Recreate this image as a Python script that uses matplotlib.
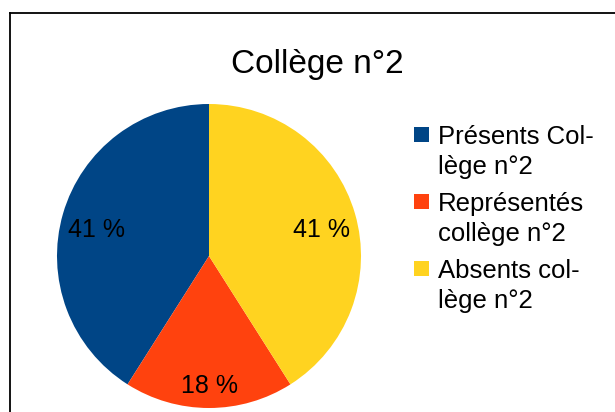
import matplotlib
matplotlib.use("Agg")
import matplotlib.pyplot as plt
from matplotlib.patches import Rectangle
from matplotlib.lines import Line2D
import numpy as np

plt.rcParams['font.family'] = ['Liberation Sans', 'DejaVu Sans']

title = "Collège n°2"
labels = ["Présents Col-\nlège n°2", "Représentés\ncollège n°2", "Absents col-\nlège n°2"]
values = [41, 18, 41]
colors = ["#004586", "#ff420e", "#ffd320"]

W, H = 615, 412
fig = plt.figure(figsize=(W / 100, H / 100), dpi=100)

def fx(px):
    return px / W

def fy(py):
    return 1 - py / H

# outer frame (cropped on right and bottom)
fig.add_artist(Line2D([fx(9.5), fx(9.5)], [0, fy(13)], color="black", lw=1.3, transform=fig.transFigure))
fig.add_artist(Line2D([fx(9.5), 1], [fy(13), fy(13)], color="black", lw=1.3, transform=fig.transFigure))

cx, cy, r = 209, 256, 152
ax = fig.add_axes([fx(cx - r), fy(cy + r), 2 * r / W, 2 * r / H])
wedges, texts, autotexts = ax.pie(values, colors=colors, startangle=90, counterclock=True,
                                  autopct=lambda p: f"{p:.0f} %", radius=1,
                                  textprops=dict(fontsize=18, color="black"),
                                  wedgeprops=dict(linewidth=0))
ax.set_xlim(-1, 1)
ax.set_ylim(-1, 1)
dists = [0.77, 0.81, 0.77]
for w, t, d in zip(wedges, autotexts, dists):
    w.set_clip_on(False)
    ang = np.deg2rad((w.theta1 + w.theta2) / 2)
    t.set_position((d * np.cos(ang), d * np.sin(ang) - 0.045))
    t.set_clip_on(False)

fig.text(fx(317), fy(65), title, fontsize=24, ha="center", va="center")

# legend
sq = 15
tops = [127, 194, 261]
for lab, col, top in zip(labels, colors, tops):
    fig.add_artist(Rectangle((fx(414), fy(top + sq)), sq / W, sq / H, facecolor=col,
                             edgecolor="none", transform=fig.transFigure))
    fig.text(fx(438), fy(top - 2), lab, fontsize=18.5, ha="left", va="top", linespacing=1.3)

fig.savefig("out.png", dpi=100)
